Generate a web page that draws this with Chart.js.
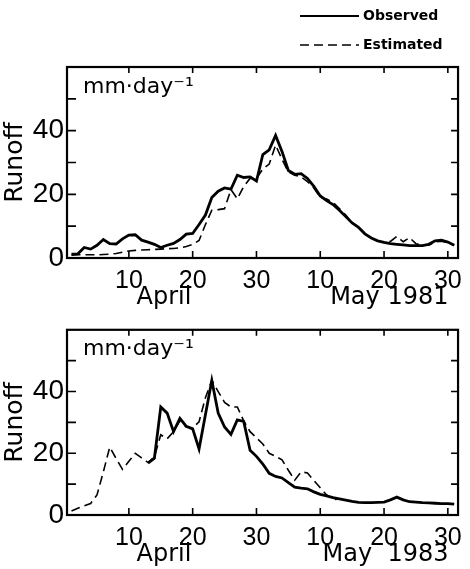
<!DOCTYPE html>
<html>
<head>
<meta charset="utf-8">
<script src="https://cdn.jsdelivr.net/npm/chart.js@4.4.0/dist/chart.umd.min.js"></script>
<style>
  html, body { margin: 0; padding: 0; background: #fff; }
  #wrap { position: relative; width: 470px; height: 569px; overflow: hidden; }
  canvas { position: absolute; left: 0; }
</style>
</head>
<body>
<div id="wrap">
  <canvas id="top81" width="470" height="310" style="top:0"></canvas>
  <canvas id="bot83" width="470" height="259" style="top:310px"></canvas>
</div>
<script>
// days: April 1 = 1 ... April 30 = 30, May 1 = 31 ... May 31 = 61
const days = [1,2,3,4,5,6,7,8,9,10,11,12,13,14,15,16,17,18,19,20,
              21,22,23,24,25,26,27,28,29,30,31,32,33,34,35,36,37,38,39,40,
              41,42,43,44,45,46,47,48,49,50,51,52,53,54,55,56,57,58,59,60,61];

const xTickValues = [10, 20, 30, 40, 50, 60];
const xTickLabels = ["10", "20", "30", "10", "20", "30"];
const yTickValues = [10, 20, 30, 40, 50];
const yLabelled = [0, 20, 40];

// 1981
const observed81 = [1.2,1.3,3.3,2.8,4.0,5.8,4.5,4.4,6.0,7.2,
                    7.3,5.6,5.0,4.3,3.3,4.0,4.6,5.8,7.5,7.7,
                    10.5,13.5,19.0,21.0,22.0,21.6,26.0,25.3,25.5,24.2,
                    32.5,34.0,38.5,33.5,27.5,26.3,26.5,25.0,22.5,19.5,
                    18.0,16.8,15.0,13.0,11.0,9.6,7.6,6.3,5.4,4.9,
                    4.5,4.3,4.1,3.9,3.9,3.9,4.3,5.4,5.6,5.0,
                    4.0];
const estimated81 = [0.9,1.0,1.0,1.0,1.0,1.1,1.2,1.4,1.8,2.2,
                     2.4,2.5,2.6,2.7,2.8,2.9,3.0,3.2,3.6,4.3,
                     5.5,10.5,15.0,15.2,15.5,21.5,18.6,22.5,25.0,25.0,
                     28.0,29.5,35.5,31.0,27.0,26.0,25.5,24.0,22.0,19.0,
                     18.5,17.5,15.5,13.5,11.0,9.6,7.6,6.3,5.4,4.9,
                     5.2,6.8,5.1,6.4,4.5,4.0,4.0,5.0,5.3,4.8,
                     4.0];

// 1983
const observed83 = [null,null,null,null,null,null,null,null,null,null,
                    null,null,16.8,18.4,35.0,33.0,27.0,31.3,28.7,27.9,
                    21.4,32.5,43.6,33.0,28.5,26.1,30.8,30.3,21.0,19.0,
                    16.5,13.5,12.5,12.0,10.5,9.0,8.7,8.5,7.5,6.7,
                    6.2,5.6,5.2,4.8,4.4,4.1,4.0,4.0,4.1,4.2,
                    4.9,5.8,4.9,4.3,4.2,4.0,3.9,3.8,3.7,3.7,
                    3.5];
const estimated83 = [1.3,2.2,3.0,3.7,6.5,14.0,22.0,18.3,14.8,17.4,
                     20.0,18.5,17.0,18.8,26.0,24.7,27.0,30.5,28.5,28.2,
                     30.2,38.0,43.6,40.0,36.5,35.0,35.0,30.5,27.0,25.0,
                     23.0,20.0,19.0,17.9,14.5,11.3,14.0,13.6,11.2,8.8,
                     6.5,5.0,5.2,null,null,null,null,null,null,null,
                     null,null,null,null,null,null,null,null,null,null,
                     null];

function points(vals) {
  return days.map((d, i) => ({ x: d, y: vals[i] }));
}

const textFont = '"DejaVu Sans", sans-serif';
const numFont = '"Liberation Sans", "DejaVu Sans", sans-serif';

const framePlugin = {
  id: 'frame',
  afterDraw(chart, args, opts) {
    const ctx = chart.ctx;
    const a = chart.chartArea;
    const xs = chart.scales.x, ys = chart.scales.y;
    ctx.save();
    ctx.strokeStyle = '#000';
    ctx.lineWidth = 2.2;
    ctx.strokeRect(a.left, a.top, a.right - a.left, a.bottom - a.top);
    ctx.lineWidth = 1.6;
    ctx.beginPath();
    xTickValues.forEach(v => {
      const px = xs.getPixelForValue(v);
      ctx.moveTo(px, a.bottom); ctx.lineTo(px, a.bottom - 7);
      ctx.moveTo(px, a.top); ctx.lineTo(px, a.top + 6);
    });
    yTickValues.forEach(v => {
      const py = ys.getPixelForValue(v);
      ctx.moveTo(a.left, py); ctx.lineTo(a.left + 9, py);
      ctx.moveTo(a.right, py); ctx.lineTo(a.right - 7, py);
    });
    ctx.stroke();

    ctx.fillStyle = '#000';
    ctx.textBaseline = 'alphabetic';
    ctx.font = '22px ' + textFont;
    ctx.textAlign = 'left';
    ctx.fillText('mm·day⁻¹', a.left + 16, a.top + opts.unitY);

    ctx.font = '24px ' + textFont;
    ctx.textAlign = 'center';
    ctx.fillText('April', xs.getPixelForValue(15.5), a.bottom + opts.monthY);
    ctx.textAlign = 'right';
    ctx.fillText(opts.mayText, xs.getPixelForValue(60.1), a.bottom + opts.monthY);

    if (opts.legend) {
      ctx.font = 'bold 14px ' + textFont;
      ctx.textAlign = 'left';
      ctx.textBaseline = 'middle';
      ctx.fillText('Observed', 363, 16);
      ctx.fillText('Estimated', 363, 45);
      ctx.lineWidth = 2.2;
      ctx.beginPath(); ctx.moveTo(300, 16); ctx.lineTo(359, 16); ctx.stroke();
      ctx.lineWidth = 1.6;
      ctx.setLineDash([9, 5]);
      ctx.beginPath(); ctx.moveTo(300, 45); ctx.lineTo(359, 45); ctx.stroke();
    }
    ctx.restore();
  }
};

function makeChart(id, obs, est, padTop, xHeight, frameOpts) {
  return new Chart(document.getElementById(id).getContext('2d'), {
    type: 'line',
    data: {
      datasets: [{
        label: 'Observed',
        data: points(obs),
        borderColor: '#000',
        borderWidth: 2.8,
        pointRadius: 0,
        tension: 0,
        spanGaps: false
      }, {
        label: 'Estimated',
        data: points(est),
        borderColor: '#000',
        borderWidth: 1.6,
        borderDash: [9, 5],
        pointRadius: 0,
        tension: 0,
        spanGaps: false
      }]
    },
    options: {
      responsive: false,
      animation: false,
      layout: { padding: { top: padTop, right: 10, left: 0, bottom: 0 } },
      plugins: {
        legend: { display: false },
        tooltip: { enabled: false },
        frame: frameOpts
      },
      scales: {
        x: {
          type: 'linear',
          min: 0.3,
          max: 61.6,
          afterBuildTicks: s => { s.ticks = xTickValues.map(v => ({ value: v })); },
          afterFit: s => { s.height = xHeight; },
          grid: { display: false, drawTicks: false },
          border: { display: false },
          ticks: {
            color: '#000',
            padding: 8,
            maxRotation: 0,
            font: { family: numFont, size: 25 },
            callback: v => xTickLabels[xTickValues.indexOf(v)]
          }
        },
        y: {
          min: 0,
          max: 60,
          afterBuildTicks: s => { s.ticks = yLabelled.map(v => ({ value: v })); },
          afterFit: s => { s.width = 67; },
          grid: { display: false, drawTicks: false },
          border: { display: false },
          ticks: {
            color: '#000',
            padding: 3,
            font: { family: numFont, size: 28 }
          },
          title: {
            display: true,
            text: 'Runoff',
            color: '#000',
            padding: { top: 0, bottom: 0 },
            font: { family: textFont, size: 25 }
          }
        }
      }
    },
    plugins: [framePlugin]
  });
}

makeChart('top81', observed81, estimated81, 67, 52,
  { unitY: 26, monthY: 46, mayText: 'May 1981', legend: true });
makeChart('bot83', observed83, estimated83, 13, 54,
  { unitY: 25, monthY: 46, mayText: 'May  1983', legend: false });
</script>
</body>
</html>
